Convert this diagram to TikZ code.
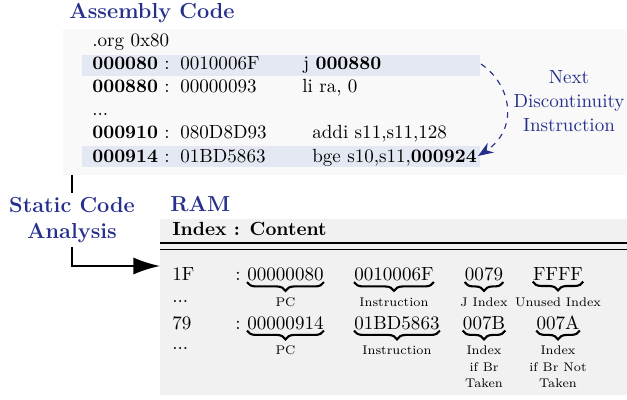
\documentclass[tikz,border=0pt]{standalone}
\usepackage{xcolor}
\usetikzlibrary{arrows.meta,decorations.pathreplacing}

\definecolor{titleblue}{RGB}{38,48,140}
\definecolor{codebg}{RGB}{249,249,249}
\definecolor{rambg}{RGB}{241,241,241}
\definecolor{rowhl}{RGB}{228,232,242}

\tikzset{
  headtitle/.style={anchor=base west, inner sep=0pt, text=titleblue, font=\fontsize{11.4}{13.8}\selectfont\bfseries},
  codeline/.style={anchor=base west, inner sep=0pt},
  ramcell/.style={anchor=base, inner sep=0pt},
  bracelabel/.style={anchor=base, inner sep=0pt, font=\fontsize{6.6}{8}\selectfont, yshift=-13.6pt},
  stacklabel/.style={anchor=north, inner sep=0pt, align=center, font=\fontsize{6.6}{8.7}\selectfont, yshift=-8.6pt},
  numbrace/.style={decorate, decoration={brace, mirror, amplitude=4.6pt}, line width=1.1pt},
}

\begin{document}
\begin{tikzpicture}[x=0.525pt,y=-0.525pt]
                \useasboundingbox (0,0) rectangle (627,400);

                % Define the two panels
                \fill[codebg] (63,29) rectangle (627,175);
                \fill[rambg] (160,219) rectangle (627,395);

                % Highlight the jump and the branch
                \fill[rowhl] (82,55) rectangle (480,76);
                \fill[rowhl] (82,146) rectangle (480,167);

                % Assembly listing
                \node[headtitle] (asmtitle) at (69,18.5) {Assembly Code};
                \node[codeline] (org) at (92,46.5) {.org 0x80};
                \node[codeline] (addrA) at (92,70) {\textbf{000080} :};
                \node[codeline] (hexA) at (180,70) {0010006F};
                \node[codeline] (instA) at (303,70) {j \textbf{000880}};
                \node[codeline] (addrB) at (92,93) {\textbf{000880} :};
                \node[codeline] (hexB) at (180,93) {00000093};
                \node[codeline] (instB) at (302,93) {li ra, 0};
                \node[codeline] (skip) at (92,116) {...};
                \node[codeline] (addrC) at (92,139) {\textbf{000910} :};
                \node[codeline] (hexC) at (180,139) {080D8D93};
                \node[codeline] (instC) at (312,139) {addi s11,s11,128};
                \node[codeline] (addrD) at (92,163) {\textbf{000914} :};
                \node[codeline] (hexD) at (180,163) {01BD5863};
                \node[codeline] (instD) at (312,163) {bge s10,s11,\textbf{000924}};

                % Jump to the next discontinuity
                \coordinate (jumpfrom) at (481,64);
                \coordinate (jumpto) at (478,156);
                \draw[titleblue, semithick, dashed, -{Stealth[length=8pt,width=6pt]}] (jumpfrom) .. controls (513,86) and (518,130) .. (jumpto);
                \node[text=titleblue, align=center, font=\fontsize{10}{12.8}\selectfont] (jumpnote) at (569,101) {Next\\Discontinuity\\Instruction};

                % Static code analysis fills the RAM
                \node[headtitle, anchor=north, align=center, inner sep=2pt] (analysis) at (72,193) {Static Code\\Analysis};
                \coordinate (codefoot) at (72,175);
                \coordinate (ramentry) at (160,266);
                \draw[line width=1pt] (codefoot) -- (analysis.north);
                \draw[line width=1pt, -{Latex[length=14pt,width=9pt]}] (analysis.south) |- (ramentry);

                % RAM table
                \node[headtitle] (ramtitle) at (170,212) {RAM};
                \node[codeline, font=\bfseries] (ramhead) at (172,236) {Index : Content};
                \draw[line width=0.9pt] (160,243.3) -- (627,243.3);
                \draw[line width=0.9pt] (160,249.6) -- (627,249.6);

                % First entry
                \node[codeline] (idxA) at (172,280.5) {1F};
                \node[codeline] (sepA) at (235,280.5) {:};
                \node[codeline] (pcA) at (247,280.5) {00000080};
                \node[codeline] (insA) at (354,280.5) {0010006F};
                \node[ramcell] (jmpA) at (484,280.5) {0079};
                \node[ramcell] (spareA) at (558,280.5) {FFFF};
                \node[codeline] (gapA) at (172,303) {...};
                \foreach \f in {pcA,insA,jmpA,spareA}
                  \draw[numbrace] ([yshift=-0.4pt]\f.south west) -- ([yshift=-0.4pt]\f.south east);
                \node[bracelabel] (pcAlab) at (pcA.base) {PC};
                \node[bracelabel] (insAlab) at (insA.base) {Instruction};
                \node[bracelabel] (jmpAlab) at (jmpA.base) {J Index};
                \node[bracelabel] (spareAlab) at (spareA.base) {Unused Index};

                % Second entry
                \node[codeline] (idxB) at (172,329) {79};
                \node[codeline] (sepB) at (235,329) {:};
                \node[codeline] (pcB) at (247,329) {00000914};
                \node[codeline] (insB) at (354,329) {01BD5863};
                \node[ramcell] (takenB) at (484,329) {007B};
                \node[ramcell] (fallB) at (558,329) {007A};
                \node[codeline] (gapB) at (172,349) {...};
                \foreach \f in {pcB,insB,takenB,fallB}
                  \draw[numbrace] ([yshift=-0.4pt]\f.south west) -- ([yshift=-0.4pt]\f.south east);
                \node[bracelabel] (pcBlab) at (pcB.base) {PC};
                \node[bracelabel] (insBlab) at (insB.base) {Instruction};
                \node[stacklabel] (takenBlab) at (takenB.base) {Index\\if Br\\Taken};
                \node[stacklabel] (fallBlab) at (fallB.base) {Index\\if Br Not\\Taken};

            \end{tikzpicture}
\end{document}
